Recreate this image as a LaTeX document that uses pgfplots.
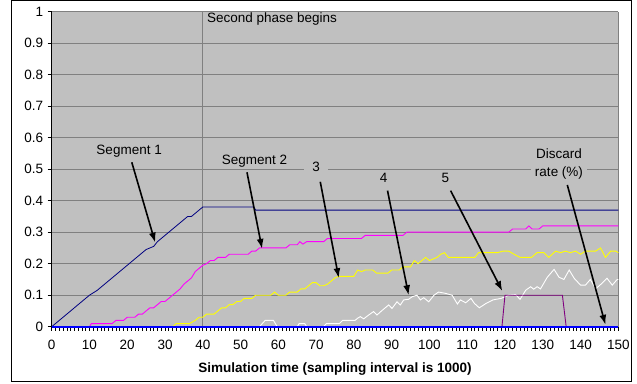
\documentclass[border=0pt]{standalone}
\usepackage{fontspec}
\setmainfont{Liberation Sans}
\usepackage{pgfplots}
\pgfplotsset{compat=1.18}
\usetikzlibrary{arrows.meta}
\definecolor{plotbg}{HTML}{C0C0C0}
\definecolor{gridc}{HTML}{808080}
\definecolor{segnavy}{HTML}{000080}
\definecolor{segmag}{HTML}{FF00FF}
\definecolor{segyel}{HTML}{FFFF00}
\definecolor{segpur}{HTML}{800080}
\definecolor{discblue}{HTML}{0000FF}
\begin{document}
\begin{tikzpicture}[x=1pt,y=1pt,font=\fontsize{13.5}{18}\selectfont]
\path[use as bounding box] (0,0) rectangle (637,383);
\draw[black, line width=1pt] (11,1.3) rectangle (631.7,382);
\begin{axis}[
  at={(51.7pt,56.3pt)}, anchor=south west,
  scale only axis, width=566.6pt, height=315pt,
  xmin=0, xmax=150, ymin=0, ymax=1,
  clip=false,
  axis background/.style={fill=plotbg},
  axis x line*=bottom, axis y line*=left,
  axis line style={black, line width=0.8pt, -},
  xtick={0,10,...,150}, minor x tick num=9,
  ytick={0,0.1,0.2,0.3,0.4,0.5,0.6,0.7,0.8,0.9,1},
  tick align=outside,
  major tick length=4pt, minor tick length=4pt,
  every tick/.style={black, line width=0.6pt},
  ymajorgrids, grid style={gridc, line width=0.8pt},
  /pgf/number format/assume math mode=true,
  xticklabel style={yshift=-6pt},
  yticklabel style={xshift=-1pt},
  xlabel={\textbf{Simulation time (sampling interval is 1000)}},
  xlabel style={yshift=-6pt},
]
\addplot[gridc, line width=0.8pt] coordinates {(40,0) (40,1)};
\addplot[gridc, line width=0.8pt] coordinates {(150,0) (150,1)};
% Segment 1
\addplot[segnavy, line width=0.8pt] coordinates {
(0,0)(2,0.02)(4,0.04)(6,0.06)(8,0.08)(10,0.1)(12,0.115)(14,0.135)(16,0.155)(18,0.175)
(20,0.195)(22,0.215)(24,0.235)(25,0.245)(26,0.25)(27,0.255)(28,0.27)(30,0.29)(32,0.31)
(34,0.33)(36,0.35)(37,0.35)(38,0.36)(39,0.37)(40,0.38)(53.5,0.38)(54,0.37)(150,0.37)};
% Segment 2
\addplot[segmag, line width=0.9pt] coordinates {
(10,0)(10.5,0.01)(16,0.01)(17,0.02)(19,0.02)(20,0.03)(22,0.03)(23,0.04)(24,0.04)(25,0.05)
(26,0.06)(27,0.06)(28,0.07)(29,0.08)(30,0.08)(31,0.09)(32,0.1)(33,0.11)(34,0.12)(35,0.135)
(36,0.145)(37,0.155)(38,0.175)(39,0.185)(40,0.195)(41,0.2)(42,0.21)(43,0.21)(44,0.22)(46,0.22)
(47,0.23)(52,0.23)(53,0.24)(54,0.24)(55,0.25)(62,0.25)(63,0.26)(65,0.26)(65.7,0.27)(66.5,0.262)
(67.5,0.27)(72,0.27)(73,0.28)(82,0.28)(83,0.29)(93,0.29)(94,0.3)(121,0.3)(122,0.31)(125.5,0.31)
(126.3,0.32)(127.2,0.31)(129,0.31)(130,0.32)(150,0.32)};
% Segment 3
\addplot[segyel, line width=0.9pt] coordinates {
(32,0)(33,0.01)(36.5,0.01)(38,0.02)(39,0.03)(40,0.03)(41,0.04)(43,0.04)(44,0.05)(45,0.06)
(46,0.06)(47,0.07)(48,0.07)(49,0.08)(50,0.08)(51,0.09)(53,0.09)(54,0.1)(58,0.1)(59,0.11)
(60,0.1)(62,0.1)(63,0.11)(65,0.11)(66,0.12)(67,0.12)(68,0.13)(69,0.14)(70,0.14)(71,0.13)
(72,0.13)(73,0.135)(74,0.145)(75,0.155)(76,0.16)(80,0.16)(81,0.18)(82,0.175)(83,0.18)(85,0.18)
(86,0.17)(89,0.17)(90,0.18)(92,0.18)(93,0.19)(95,0.19)(96,0.21)(97,0.2)(98,0.21)(99,0.22)
(100,0.21)(101,0.215)(102,0.22)(103,0.23)(104,0.235)(105,0.22)(112,0.22)(113,0.235)(118,0.235)
(119.5,0.24)(121,0.24)(122.4,0.23)(124,0.22)(127,0.22)(128.5,0.235)(130.3,0.235)(131.6,0.22)
(133.4,0.24)(134.7,0.235)(136,0.24)(137.3,0.235)(138.7,0.24)(140,0.23)(141.3,0.24)(144,0.24)
(145.3,0.25)(146.6,0.22)(148,0.24)(149.3,0.24)(150,0.235)};
% Segment 4
\addplot[white, line width=0.9pt] coordinates {
(55,0)(56.5,0.02)(58.7,0.02)(59.7,0)(65,0)(65.5,0.01)(67,0.01)(67.5,0)(72,0)(72.7,0.01)
(76.2,0.01)(77,0.02)(80.3,0.02)(81,0.027)(81.7,0.032)(82.6,0.025)(83.9,0.037)(85.2,0.048)
(86.1,0.037)(87.4,0.051)(89.2,0.069)(90.1,0.058)(91.4,0.079)(92.3,0.069)(93.2,0.085)(94.5,0.087)
(95.4,0.095)(96.7,0.1)(97.6,0.085)(98.5,0.092)(99.8,0.079)(101.2,0.1)(102.4,0.11)(104.2,0.106)
(106,0.1)(107.4,0.072)(108.2,0.085)(109.6,0.076)(111,0.09)(111.9,0.074)(113.2,0.06)(115,0.074)
(116.8,0.085)(119,0.09)(121,0.1)(122.8,0.102)(124,0.087)(125.5,0.116)(126.8,0.127)(127.6,0.119)
(128.5,0.127)(129.4,0.12)(131.2,0.157)(133,0.182)(134.3,0.157)(135.6,0.15)(137,0.18)(138.3,0.154)
(140,0.132)(141.3,0.132)(142.6,0.15)(144,0.12)(145.7,0.138)(147,0.154)(148.4,0.132)(149.7,0.15)(150,0.15)};
% Segment 5
\addplot[segpur, line width=0.9pt] coordinates {(119.2,0)(120,0.1)(135.2,0.1)(136.2,0)};
% Discard rate
\addplot[discblue, line width=2pt] coordinates {(0,0)(150,0)};

\node[anchor=west, inner xsep=0pt] at (axis cs:41.1,0.976) {Second phase begins};
\node[fill=plotbg, inner xsep=4pt, inner ysep=2pt] at (axis cs:20.5,0.557) {Segment 1};
\node[fill=plotbg, inner xsep=4pt, inner ysep=2pt] at (axis cs:53.7,0.527) {Segment 2};
\node[fill=plotbg, inner xsep=8pt, inner ysep=2pt] at (axis cs:70.0,0.507) {3};
\node[fill=plotbg, inner xsep=8pt, inner ysep=2pt] at (axis cs:87.9,0.471) {4};
\node[fill=plotbg, inner xsep=8pt, inner ysep=2pt] at (axis cs:104.2,0.471) {5};
\node[fill=plotbg, inner xsep=4pt, inner ysep=2pt, align=center] at (axis cs:134.3,0.517) {Discard\\rate (\%)};
\begin{scope}[line width=1.6pt, -{Latex[length=10pt,width=7pt]}]
\draw (axis cs:21.2,0.522) -- (axis cs:27.4,0.267);
\draw (axis cs:51.7,0.49) -- (axis cs:55.7,0.247);
\draw (axis cs:71.1,0.46) -- (axis cs:76.0,0.154);
\draw (axis cs:88.9,0.432) -- (axis cs:94.5,0.1);
\draw (axis cs:105.6,0.432) -- (axis cs:119.3,0.113);
\draw (axis cs:136.5,0.45) -- (axis cs:146.6,0.006);
\end{scope}
\end{axis}
\end{tikzpicture}
\end{document}
